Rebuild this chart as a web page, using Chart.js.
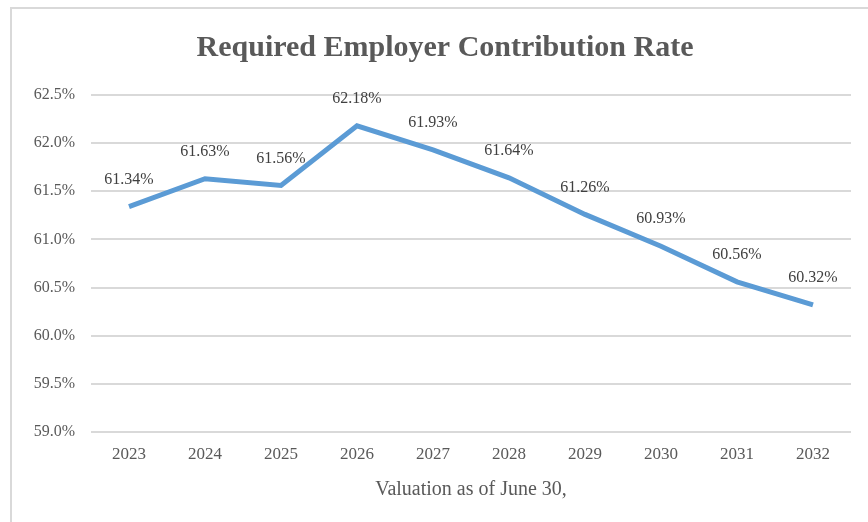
<!DOCTYPE html>
<html>
<head>
<meta charset="utf-8">
<script src="https://cdn.jsdelivr.net/npm/chart.js@4/dist/chart.umd.min.js"></script>
<style>
  html,body{margin:0;padding:0;background:#fff;overflow:hidden;}
  #wrap{position:relative;width:868px;height:522px;}
  #frame{position:absolute;left:10px;top:7px;width:900px;height:600px;border:2px solid #d9d9d9;box-sizing:border-box;}
  canvas{position:absolute;left:0;top:0;}
</style>
</head>
<body>
<div id="wrap">
  <div id="frame"></div>
  <canvas id="c" width="868" height="522"></canvas>
</div>
<script>
const categories = ["2023","2024","2025","2026","2027","2028","2029","2030","2031","2032"];
const rateValues = [61.34, 61.63, 61.56, 62.18, 61.93, 61.64, 61.26, 60.93, 60.56, 60.32];
const chartTitle = "Required Employer Contribution Rate";
const xAxisTitle = "Valuation as of June 30,";

const serif = "'Liberation Serif', 'Times New Roman', serif";

const labelPlugin = {
  id: 'pointLabels',
  afterLayout(chart) {
    // center the title over the chart frame (which extends past the window)
    const t = chart.titleBlock;
    if (t) { t.left = 22; t.right = 868; t.width = 846; }
  },
  afterDatasetsDraw(chart) {
    const ctx = chart.ctx;
    const meta = chart.getDatasetMeta(0);
    ctx.save();
    ctx.font = "16px " + serif;
    ctx.fillStyle = "#404040";
    ctx.textAlign = "center";
    ctx.textBaseline = "middle";
    meta.data.forEach((pt, i) => {
      ctx.fillText(rateValues[i].toFixed(2) + "%", pt.x, pt.y - 27);
    });
    ctx.restore();
  }
};

new Chart(document.getElementById('c'), {
  type: 'line',
  data: {
    labels: categories,
    datasets: [{
      data: rateValues,
      borderColor: '#5B9BD5',
      borderWidth: 5,
      pointRadius: 0,
      pointHoverRadius: 0,
      tension: 0,
      fill: false
    }]
  },
  options: {
    responsive: false,
    animation: false,
    events: [],
    layout: { padding: { left: 0, right: 17, top: 0, bottom: 0 } },
    plugins: {
      legend: { display: false },
      tooltip: { enabled: false },
      title: {
        display: true,
        text: chartTitle,
        color: '#595959',
        font: { family: serif, size: 30, weight: 'bold' },
        padding: { top: 30.5, bottom: 28.5 }
      }
    },
    scales: {
      x: {
        offset: true,
        grid: { display: false, drawTicks: false },
        border: { display: false },
        ticks: { color: '#595959', font: { family: serif, size: 17 }, padding: 12 },
        title: {
          display: true,
          text: xAxisTitle,
          color: '#595959',
          font: { family: serif, size: 20 },
          padding: { top: 4, bottom: 20 }
        },
        afterFit(scale) { scale.height = 90; }
      },
      y: {
        min: 59,
        max: 62.5,
        grid: { color: '#d9d9d9', lineWidth: 2, drawTicks: false },
        border: { display: false },
        ticks: {
          stepSize: 0.5,
          color: '#595959',
          font: { family: serif, size: 16 },
          padding: 16,
          callback: (v) => Number(v).toFixed(1) + '%'
        },
        afterFit(scale) { scale.width = 91; }
      }
    }
  },
  plugins: [labelPlugin]
});
</script>
</body>
</html>
